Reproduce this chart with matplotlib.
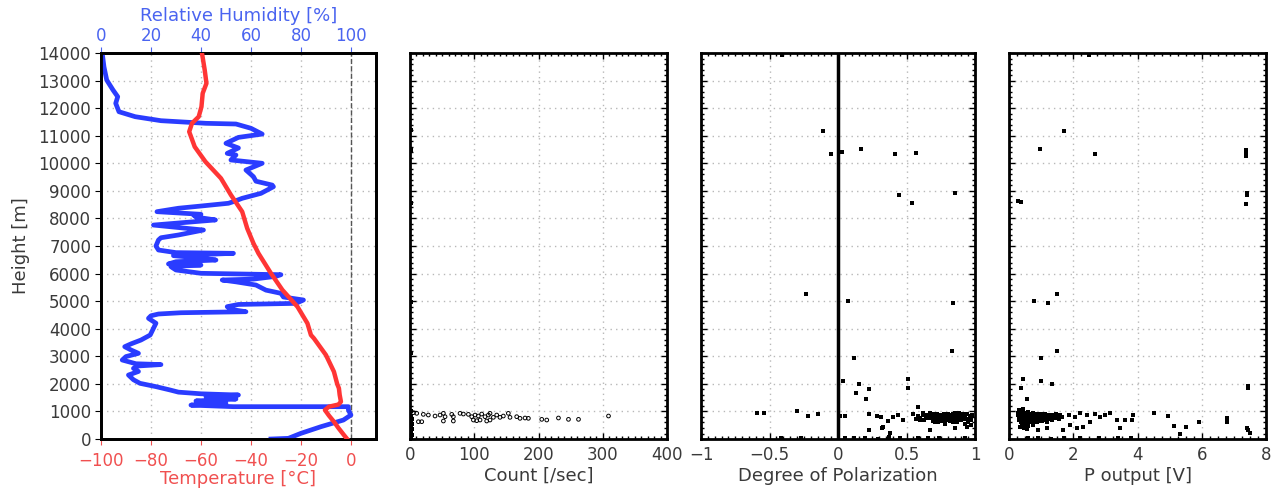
import matplotlib.pyplot as plt
from matplotlib.ticker import MultipleLocator

# ---- radiosonde profile: temperature ----
temp_h = [0, 145, 400, 628, 850, 1052, 1173, 1250, 1354, 1600, 1839, 2000, 2442,
          3047, 3650, 3772, 4196, 4800, 5404, 6010, 6735, 7098, 7642, 8245, 8850,
          9455, 10057, 10600, 11145, 11450, 11690, 12050, 12540, 12900, 13385, 14000]
temp_c = [-1.5, -2.8, -5.0, -6.8, -8.8, -10.4, -8.8, -5.0, -4.0, -4.5, -4.8, -5.5, -6.8,
          -10.0, -14.8, -16.0, -17.4, -21.4, -27.4, -32.0, -37.0, -39.0, -41.5, -43.5, -48.0,
          -52.0, -58.2, -62.5, -64.7, -63.6, -60.9, -59.8, -59.3, -57.8, -58.5, -59.6]

# ---- radiosonde profile: relative humidity ----
rh_h = [0, 25, 206, 447, 689, 870, 1052, 1173, 1173, 1230, 1294, 1380, 1450, 1540,
        1596, 1640, 1700, 1777, 1900, 2020, 2150, 2321, 2450, 2563, 2650, 2700, 2730,
        2865, 2990, 3108, 3230, 3348, 3450, 3590, 3772, 4015, 4200, 4378, 4470, 4534,
        4580, 4617, 4700, 4800, 4880, 4920, 5042, 5150, 5284, 5400, 5585, 5700, 5767,
        5800, 5900, 5960, 6010, 6070, 6130, 6250, 6311, 6350, 6430, 6492, 6560, 6650,
        6735, 6760, 6855, 7000, 7218, 7300, 7400, 7580, 7760, 7945, 8050, 8125, 8150,
        8245, 8370, 8450, 8550, 8610, 8730, 8910, 9150, 9210, 9350, 9515, 9756, 10000,
        10120, 10300, 10360, 10555, 10725, 10940, 11060, 11270, 11425, 11450, 11545,
        11690, 11870, 12175, 12415, 12660, 13020, 13500, 14000]
rh_pct = [68, 75, 80, 88, 97, 100, 99, 99, 53, 36, 50, 38, 54, 42,
          55, 40, 31, 27.7, 22, 15.6, 13, 11, 15, 13, 15, 24, 14,
          8.5, 10, 15, 12, 9.5, 12, 16, 19.7, 21, 22, 19, 20, 23,
          32, 58, 52, 50.5, 55, 78, 81, 73, 72, 66, 62, 54, 48.5,
          61, 70, 72, 40, 35, 30, 28, 40, 27, 30, 46, 40, 29,
          53, 30, 23, 22, 23, 24, 31, 41, 21, 45.8, 38, 37, 40,
          22.4, 31, 40, 51, 53, 56.5, 64, 69, 68.5, 62, 61, 58, 64.5,
          52, 54, 50.5, 55, 50, 55, 64.5, 60, 54, 42, 24,
          13.7, 7.2, 5.9, 6.7, 4.8, 2.3, 1.2, 0.5]

# ---- particle counter ----
count_v = [5.2, 10.4, 20.7, 28.5, 38.9, 46.7, 51.9, 54.5, 64.9, 67.4, 77.8, 83.0,
           90.8, 96.0, 101.2, 106.3, 111.5, 116.7, 121.9, 124.5, 129.7, 134.9, 140.0,
           145.2, 153.0, 155.6, 166.0, 171.2, 179.0, 184.2, 205.0, 212.8, 231.0, 246.6,
           262.2, 308.9, 13.0, 18.2, 51.9, 67.4, 98.6, 103.8, 109.0, 119.3, 124.5]
count_h = [955, 931, 894, 870, 834, 870, 931, 810, 894, 810, 931, 906, 894, 810,
           870, 834, 906, 810, 870, 931, 786, 870, 786, 834, 931, 786, 810, 750,
           762, 750, 713, 689, 762, 713, 713, 834, 628, 628, 653, 653, 689, 665,
           689, 653, 689]
count_low_v = [1.5, 2.5, 2.0, 3.0, 1.5, 2.5, 2.0, 3.0, 1.5, 1.0, 1.0, 1.0, 1.0, 1.0, 1.0]
count_low_h = [40, 150, 260, 380, 480, 560, 650, 740, 850, 1000, 3120, 4970, 8560, 10480, 11200]

# ---- polarization sonde ----
dop_v = [-0.41, -0.107, -0.051, 0.032, 0.168, 0.416, 0.569, 0.854, 0.448, 0.538,
         -0.236, 0.075, 0.842, 0.835, 0.119, 0.039, 0.153, 0.129, 0.229, 0.202,
         0.509, 0.509, -0.593, -0.538, -0.301, -0.221, -0.143, 0.015, 0.051, 0.226,
         0.282, 0.314, 0.367, 0.404, 0.44, 0.477, 0.229, 0.319, 0.331, 0.38, 0.582,
         0.672, 0.854, 0.94,
         0.55, 0.58, 0.60, 0.62, 0.63, 0.65, 0.66, 0.68, 0.69, 0.70, 0.71, 0.72,
         0.73, 0.74, 0.75, 0.76, 0.77, 0.78, 0.79, 0.80, 0.81, 0.82, 0.83, 0.84,
         0.85, 0.86, 0.87, 0.88, 0.89, 0.90, 0.91, 0.92, 0.93, 0.94, 0.95, 0.96,
         0.97, 0.98, 0.60, 0.67, 0.71, 0.76, 0.80, 0.84, 0.88, 0.93, 0.97, 0.64,
         0.73, 0.82, 0.90, 0.57, 0.69, 0.78, 0.86, 0.95, 0.62, 0.75, 0.91,
         0.66, 0.70, 0.74, 0.78, 0.83, 0.87, 0.92, 0.96, 0.68, 0.72, 0.80, 0.85,
         0.89, 0.94, 0.77, 0.63, 0.86, 0.91, 0.97, 0.71,
         0.05, 0.12, 0.20, 0.29, 0.37, 0.45, 0.58, 0.66, 0.74, 0.93, -0.42, -0.27]
dop_h = [13930, 11180, 10337, 10397, 10518, 10337, 10360, 8934, 8850, 8548,
         5248, 5005, 4944, 3192, 2926, 2116, 1995, 1680, 1800, 1438,
         2176, 1862, 932, 932, 1015, 834, 895, 846, 834, 895,
         834, 810, 653, 810, 870, 689, 326, 387, 447, 206, 1173,
         326, 387, 447,
         900, 850, 780, 900, 700, 820, 880, 760, 650, 900, 830, 720,
         600, 870, 790, 680, 920, 560, 840, 740, 880, 650, 800, 900,
         710, 830, 600, 760, 880, 680, 820, 740, 560, 900, 650, 800,
         700, 860, 690, 950, 610, 860, 920, 620, 940, 780, 520, 760,
         810, 850, 830, 740, 870, 700, 760, 600, 940, 640, 880,
         780, 860, 730, 900, 770, 690, 850, 760, 820, 900, 700, 940,
         790, 720, 830, 870, 650, 900, 820, 760,
         40, 20, 30, 15, 60, 25, 30, 20, 35, 25, 30, 20]
dop_zero_h = [0, 14000]
dop_zero_v = [0, 0]

pout_v = [2.49, 1.72, 0.97, 2.66, 7.38, 7.38, 7.38, 7.41, 7.41, 7.37, 0.29, 0.36,
          1.49, 0.78, 1.2, 1.5, 0.99, 0.43, 0.36, 0.55, 1.0, 1.35, 7.43, 7.43,
          1.85, 2.06, 2.21, 2.42, 2.52, 2.68, 2.83, 2.99, 3.15, 3.35, 3.46, 3.61,
          3.87, 3.82, 4.5, 4.96, 5.12, 5.33, 5.51, 5.9, 6.78, 6.78, 7.4, 7.45, 7.5,
          1.9, 2.11, 2.31, 1.69, 1.17, 0.91, 0.55,
          0.28, 0.30, 0.32, 0.34, 0.36, 0.38, 0.40, 0.42, 0.44, 0.46, 0.48, 0.50,
          0.52, 0.54, 0.56, 0.58, 0.60, 0.62, 0.64, 0.66, 0.68, 0.70, 0.72, 0.74,
          0.76, 0.78, 0.80, 0.82, 0.84, 0.86, 0.88, 0.90, 0.92, 0.94, 0.96, 0.98,
          1.00, 1.03, 1.06, 1.09, 1.12, 1.15, 1.18, 1.21, 1.24, 1.27, 1.30, 1.34,
          1.38, 1.42, 1.46, 1.50, 1.55, 1.60, 1.65, 0.35, 0.45, 0.60, 0.30, 0.42,
          0.75, 0.33, 0.55, 0.70, 0.90, 1.10, 0.31, 0.49, 0.66, 0.85, 1.02, 0.39,
          0.37, 0.47, 0.57, 0.67, 0.77, 0.87, 0.97, 1.07, 0.41, 0.51, 0.61, 0.71,
          0.81, 0.29, 1.17, 1.33, 0.53, 0.63,
          0.6, 0.9, 1.3, 1.7, 2.2, 2.8, 3.4, 3.8]
pout_h = [13930, 11180, 10518, 10337, 10480, 10360, 10265, 8934, 8850, 8524, 8620, 8585,
          5248, 5005, 4944, 3192, 2926, 2176, 1862, 1438, 2092, 1995, 1862, 1930,
          870, 810, 931, 870, 628, 907, 810, 870, 931, 689, 387, 689,
          870, 689, 931, 834, 483, 181, 447, 628, 750, 628, 387, 326, 206,
          508, 387, 447, 326, 387, 326, 350,
          950, 820, 700, 880, 620, 1000, 760, 900, 560, 840, 680, 950,
          780, 620, 880, 720, 980, 820, 660, 900, 760, 600, 860, 700,
          940, 800, 650, 880, 740, 600, 830, 920, 700, 780, 860, 640,
          900, 760, 840, 680, 900, 780, 620, 860, 740, 880, 800, 700,
          860, 780, 900, 820, 740, 880, 800, 450, 400, 480, 1050, 1100,
          520, 760, 940, 820, 760, 820, 880, 720, 780, 700, 640, 560,
          730, 860, 700, 800, 900, 700, 800, 760, 640, 720, 860, 740,
          820, 880, 700, 820, 520, 600,
          20, 30, 15, 40, 25, 30, 20, 35]

blue = '#2a3cff'
red = '#ff3535'
blue_txt = '#4a64f0'
red_txt = '#f05050'
txt = '#3a3a3a'
grid_kw = dict(color='#b8b8b8', linestyle=(0, (1, 3)), linewidth=1.0)

plt.rcParams['font.family'] = 'DejaVu Sans'
plt.rcParams['font.size'] = 12

fig = plt.figure(figsize=(12.83, 4.94), dpi=100)
bottom, height = 0.1113, 0.7814

# ---- panel 1: temperature (bottom axis) and humidity (top axis) ----
ax_rh = fig.add_axes([0.0787, bottom, 0.2143, height])
ax_t = ax_rh.twiny()

ax_rh.set_xlim(0, 110)
ax_rh.set_ylim(0, 14000)
ax_rh.xaxis.tick_top()
ax_rh.xaxis.set_label_position('top')
ax_rh.set_xticks([0, 20, 40, 60, 80, 100])
ax_rh.set_yticks(range(0, 14001, 1000))
ax_rh.tick_params(axis='x', colors=blue_txt, labelcolor=blue_txt, direction='out',
                  length=4, pad=2, top=True, bottom=False, labeltop=True, labelbottom=False)
ax_rh.tick_params(axis='y', colors='black', labelcolor=txt, direction='out', length=4, pad=3)
ax_rh.grid(True, **grid_kw)
ax_rh.axvline(100, color='#555555', linestyle='--', linewidth=1.0)
ax_rh.plot(rh_pct, rh_h, color=blue, linewidth=3.4, solid_joinstyle='round', zorder=3)
ax_rh.set_xlabel('Relative Humidity [%]', color=blue_txt, fontsize=13, labelpad=4)
ax_rh.set_ylabel('Height [m]', color=txt, fontsize=13, labelpad=6)

ax_t.set_xlim(-100, 10)
ax_t.set_xticks([-100, -80, -60, -40, -20, 0])
ax_t.xaxis.set_label_position('bottom')
ax_t.tick_params(axis='x', colors=red_txt, labelcolor=red_txt, direction='out',
                 length=4, pad=5, top=False, bottom=True, labeltop=False, labelbottom=True)
ax_t.set_xticklabels(['−100', '−80', '−60', '−40', '−20', '0'])
ax_t.plot(temp_c, temp_h, color=red, linewidth=3.2, solid_joinstyle='round', zorder=4)
ax_t.set_xlabel('Temperature [°C]', color=red_txt, fontsize=13, labelpad=0)
for ax in (ax_rh, ax_t):
    for s in ax.spines.values():
        s.set_linewidth(2)
        s.set_color('black')


def style_panel(ax, xlim, xticks, xminor):
    ax.set_xlim(*xlim)
    ax.set_ylim(0, 14000)
    ax.set_xticks(xticks)
    ax.set_yticks(range(0, 14001, 1000))
    ax.xaxis.set_minor_locator(MultipleLocator(xminor))
    ax.yaxis.set_minor_locator(MultipleLocator(200))
    ax.tick_params(axis='both', which='both', direction='in', top=True, right=True,
                   colors='black', labelcolor=txt)
    ax.tick_params(which='major', length=4, width=1)
    ax.tick_params(which='minor', length=2.5, width=1)
    ax.tick_params(axis='y', labelleft=False)
    ax.tick_params(axis='x', pad=5)
    ax.grid(True, **grid_kw)
    for s in ax.spines.values():
        s.set_linewidth(2)


# ---- panel 2: count rate ----
ax2 = fig.add_axes([0.3196, bottom, 0.2003, height])
style_panel(ax2, (0, 400), [0, 100, 200, 300, 400], 10)
ax2.scatter(count_low_v, count_low_h, s=7, marker='s', color='black', linewidths=0, zorder=3)
ax2.scatter(count_v, count_h, s=7, marker='o', facecolors='none', edgecolors='black',
            linewidths=0.7, zorder=3)
ax2.set_xlabel('Count [/sec]', color=txt, fontsize=13, labelpad=2)

# ---- panel 3: degree of polarization ----
ax3 = fig.add_axes([0.5464, bottom, 0.2136, height])
style_panel(ax3, (-1, 1), [-1, -0.5, 0, 0.5, 1], 0.05)
ax3.set_xticklabels(['−1', '−0.5', '0', '0.5', '1'])
ax3.plot(dop_zero_v, dop_zero_h, color='black', linewidth=2.5, zorder=3)
ax3.scatter(dop_v, dop_h, s=9, marker='s', color='black', linewidths=0, zorder=3)
ax3.set_xlabel('Degree of Polarization', color=txt, fontsize=13, labelpad=2)

# ---- panel 4: P output voltage ----
ax4 = fig.add_axes([0.7865, bottom, 0.2003, height])
style_panel(ax4, (0, 8), [0, 2, 4, 6, 8], 0.25)
ax4.scatter(pout_v, pout_h, s=9, marker='s', color='black', linewidths=0, zorder=3)
ax4.set_xlabel('P output [V]', color=txt, fontsize=13, labelpad=2)

fig.savefig('out.png', dpi=100)
